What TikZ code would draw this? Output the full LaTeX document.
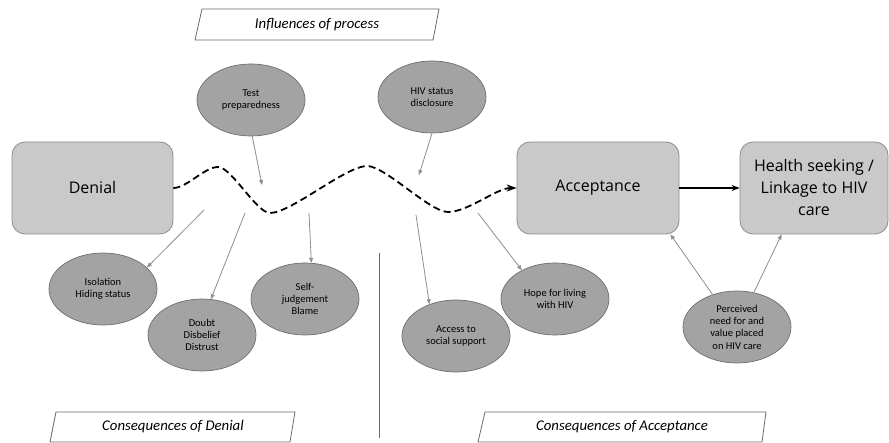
\documentclass[tikz,border=0pt]{standalone}
\usepackage{fontspec}
\setmainfont{Carlito}
\newfontfamily\boxfont{Open Sans}
\usetikzlibrary{shapes.geometric,arrows.meta,calc}
\definecolor{ellfill}{HTML}{A3A3A3}
\definecolor{elldraw}{HTML}{6E6E6E}
\definecolor{boxfill}{HTML}{C9C9C9}
\definecolor{boxdraw}{HTML}{8C8C8C}
\definecolor{arrgray}{HTML}{8F8F8F}
\definecolor{framegray}{HTML}{6A6A6A}
\tikzset{
  ell/.style={ellipse, draw=elldraw, fill=ellfill, line width=0.7pt, minimum width=108pt, minimum height=72pt, inner sep=0pt, align=center, font=\fontsize{10.5}{12.3}\selectfont},
  bigbox/.style={rectangle, rounded corners=13pt, draw=boxdraw, fill=boxfill, line width=0.8pt, minimum height=92pt, inner sep=0pt, align=center, font=\boxfont\fontsize{16}{22}\selectfont},
  garrow/.style={draw=arrgray, line width=0.8pt, -{Triangle[length=5pt,width=4pt]}},
  frame/.style={draw=framegray, line width=0.8pt, fill=white},
  ftext/.style={font=\itshape\fontsize{14.8}{16}\selectfont},
  wave/.style={black, line width=1.8pt, dash pattern=on 7pt off 4pt}
}
\begin{document}
\begin{tikzpicture}[x=1pt,y=-1pt]
\useasboundingbox (0,0) rectangle (889,443);
\fill[white] (0,0) rectangle (889,443);

% header frames
\draw[frame] (202,9) -- (439,9) -- (433,40) -- (195,40) -- cycle;
\node[ftext] (hdr) at (317,24.5) {Influences of process};
\draw[frame] (56,412) -- (295,412) -- (290,442) -- (50,442) -- cycle;
\node[ftext] (cden) at (173,427) {Consequences of Denial};
\draw[frame] (485,412) -- (766,412) -- (762,442) -- (478,442) -- cycle;
\node[ftext] (cacc) at (622,427) {Consequences of Acceptance};

% divider
\coordinate (vt) at (379,253);
\coordinate (vb) at (379,438);
\draw[color=framegray, line width=0.9pt] (vt) -- (vb);

% main boxes
\node[bigbox, minimum width=161pt] (den) at (92.5,188) {Denial};
\node[bigbox, minimum width=162pt] (acc) at (598,188) {Acceptance};
\node[bigbox, minimum width=148pt] (hs) at (814,188) {Health seeking /\\Linkage to HIV\\care};

% ellipses
\node[ell] (tp) at (251,100) {Test\\preparedness};
\node[ell] (hiv) at (432,97) {HIV status\\disclosure};
\node[ell] (iso) at (103,289) {Isolation\\Hiding status};
\node[ell] (dou) at (202,335) {Doubt\\Disbelief\\Distrust};
\node[ell] (sel) at (305,299) {Self-\\judgement\\Blame};
\node[ell] (acs) at (456,336) {Access to\\social support};
\node[ell] (hop) at (555,299) {Hope for living\\with HIV};
\node[ell] (pn) at (737,327) {Perceived\\need for and\\value placed\\on HIV care};

% wave
\coordinate (p1) at (218,167);
\coordinate (t1) at (270,213);
\coordinate (p2) at (367,166);
\coordinate (t2) at (448,212);
\draw[wave, -{Stealth[length=10pt,width=7pt]}] (den.east) to[out=0,in=180,looseness=0.7] (p1)
  to[out=0,in=180,looseness=0.5] (t1)
  to[out=0,in=180,looseness=0.5] (p2)
  to[out=0,in=180,looseness=0.5] (t2)
  to[out=0,in=180,looseness=0.7] (acc.west);

\draw[black, line width=1.3pt, -{Stealth[length=8pt,width=6pt]}] (acc.east) -- (hs.west);

% influences
\coordinate (ti) at (262,185);
\coordinate (hi) at (419,175);
\draw[garrow] (tp.-88) -- (ti);
\draw[garrow] (hiv.-90) -- (hi);

% consequences
\coordinate (s1) at (204,210);
\coordinate (s2) at (245,213);
\coordinate (s3) at (309,213);
\coordinate (s4) at (416,215);
\coordinate (s5) at (478,213);
\draw[garrow] (s1) -- (iso.26);
\draw[garrow] (s2) -- (dou.76);
\draw[garrow] (s3) -- (sel.80);
\draw[garrow] (s4) -- (acs.130);
\draw[garrow] (s5) -- (hop.139);

\draw[garrow] (pn.127) -- ([xshift=-9pt]acc.south east);
\draw[garrow] (pn.64) -- ([xshift=42pt]hs.south west);
\end{tikzpicture}
\end{document}
